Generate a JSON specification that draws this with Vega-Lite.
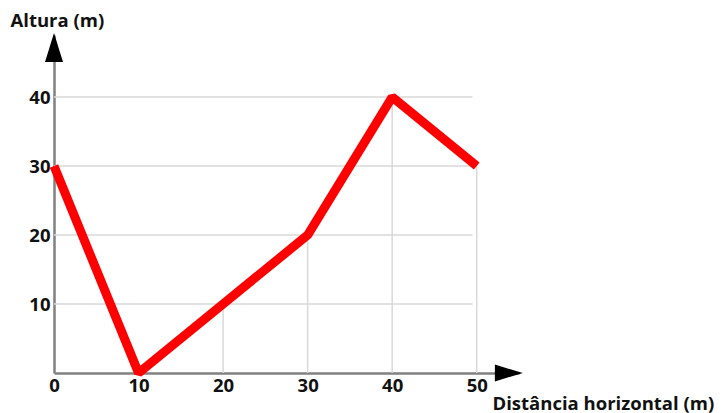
{
  "$schema": "https://vega.github.io/schema/vega-lite/v6.json",
  "width": 465,
  "height": 338,
  "autosize": {"type": "none"},
  "padding": {"left": 54, "top": 35, "right": 204, "bottom": 40},
  "background": "white",
  "config": {"view": {"stroke": null}, "font": "Open Sans"},
  "datasets": {
    "path": [
      {"distancia": 0, "altura": 30},
      {"distancia": 10, "altura": 0},
      {"distancia": 20, "altura": 10},
      {"distancia": 30, "altura": 20},
      {"distancia": 40, "altura": 40},
      {"distancia": 50, "altura": 30}
    ],
    "grid": [{"altura": 10}, {"altura": 20}, {"altura": 30}, {"altura": 40}]
  },
  "layer": [
    {
      "data": {"name": "grid"},
      "mark": {"type": "rule", "color": "#d9d9d9", "strokeWidth": 1.5},
      "encoding": {
        "y": {
          "field": "altura",
          "type": "quantitative",
          "scale": {"domain": [0, 49], "nice": false, "zero": false},
          "axis": {
            "values": [10, 20, 30, 40],
            "grid": false,
            "ticks": false,
            "domainColor": "#808080",
            "domainWidth": 2.5,
            "labelFont": "Open Sans",
            "labelFontWeight": "bold",
            "labelFontSize": 18.5,
            "labelColor": "#111111",
            "labelPadding": 4,
            "title": "Altura (m)",
            "titleFont": "Open Sans",
            "titleFontWeight": "bold",
            "titleFontSize": 18.5,
            "titleColor": "#111111",
            "titleAngle": 0,
            "titleAlign": "left",
            "titleBaseline": "middle",
            "titleX": -44,
            "titleY": -15
          }
        },
        "x": {
          "datum": 0,
          "type": "quantitative",
          "scale": {"domain": [0, 55], "nice": false, "zero": false},
          "axis": {
            "values": [0, 10, 20, 30, 40, 50],
            "grid": false,
            "ticks": false,
            "domainColor": "#808080",
            "domainWidth": 2.5,
            "labelFont": "Open Sans",
            "labelFontWeight": "bold",
            "labelFontSize": 18.5,
            "labelColor": "#111111",
            "labelPadding": 3,
            "labelFlush": false,
            "title": "Distância horizontal (m)",
            "titleFont": "Open Sans",
            "titleFontWeight": "bold",
            "titleFontSize": 18.5,
            "titleColor": "#111111",
            "titleAlign": "left",
            "titleBaseline": "middle",
            "titleX": 438,
            "titleY": 30
          }
        },
        "x2": {"datum": 49.5}
      }
    },
    {
      "data": {"name": "path"},
      "transform": [{"filter": "datum.distancia >= 20"}],
      "mark": {"type": "rule", "color": "#d9d9d9", "strokeWidth": 1.5},
      "encoding": {
        "x": {"field": "distancia", "type": "quantitative"},
        "y": {"field": "altura", "type": "quantitative"},
        "y2": {"datum": 0}
      }
    },
    {
      "data": {"name": "path"},
      "mark": {"type": "line", "color": "#ff0000", "strokeWidth": 9, "strokeJoin": "bevel", "strokeCap": "butt"},
      "encoding": {
        "x": {"field": "distancia", "type": "quantitative"},
        "y": {"field": "altura", "type": "quantitative"}
      }
    },
    {
      "data": {"values": [{}]},
      "mark": {"type": "point", "shape": "M-0.62,1L0,-1L0.62,1Z", "filled": true, "color": "#000000", "opacity": 1, "size": 841},
      "encoding": {
        "x": {"datum": 0, "type": "quantitative"},
        "y": {"datum": 47.2, "type": "quantitative"}
      }
    },
    {
      "data": {"values": [{}]},
      "mark": {"type": "point", "shape": "M-1,-0.6L1,0L-1,0.6Z", "filled": true, "color": "#000000", "opacity": 1, "size": 784},
      "encoding": {
        "x": {"datum": 53.8, "type": "quantitative"},
        "y": {"datum": 0, "type": "quantitative"}
      }
    }
  ]
}
